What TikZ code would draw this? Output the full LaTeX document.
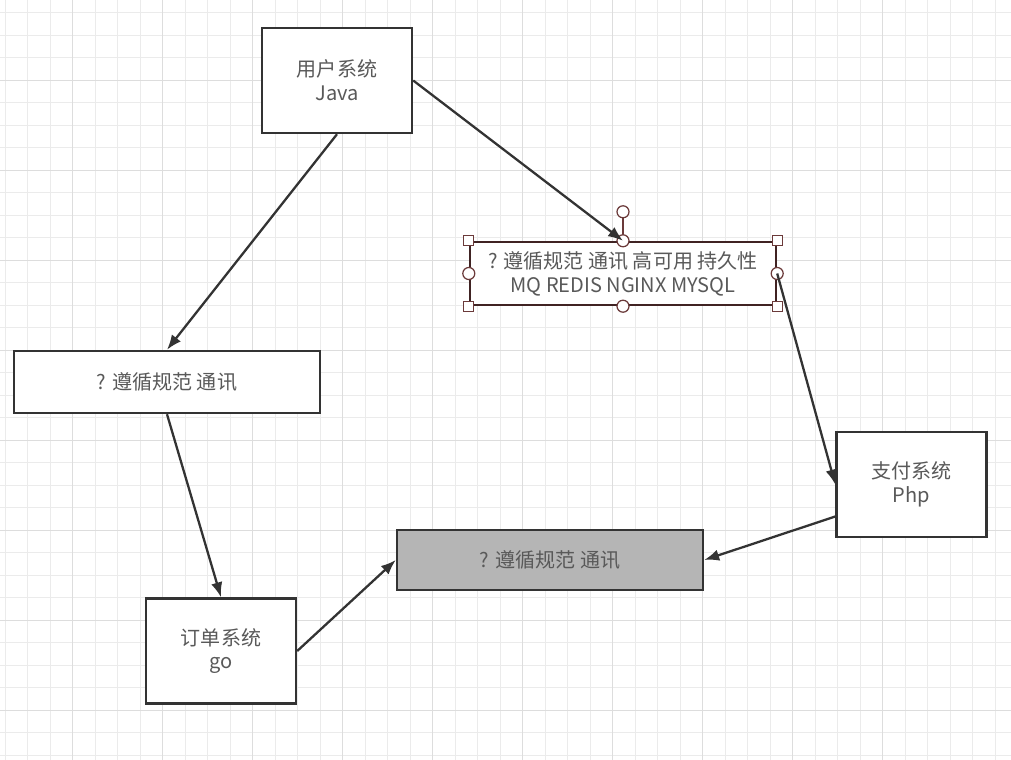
\documentclass[tikz,border=0pt]{standalone}
\usepackage{fontspec}
\setmainfont{Noto Sans CJK SC}
\usetikzlibrary{
    positioning,
    arrows.meta,
    calc
}
\definecolor{txtgray}{HTML}{595959}
\definecolor{boxfill}{HTML}{B5B5B5}
\definecolor{gridminor}{HTML}{EBEBEB}
\definecolor{gridmajor}{HTML}{DDDDDD}
\definecolor{selred}{HTML}{6B3A3A}

\begin{document}
\begin{tikzpicture}[
    x=0.02cm, y=-0.02cm,
    system/.style={
        draw=black!80, rectangle, line width=1.4pt, minimum height=2.1cm,
        minimum width=3cm, align=center, fill=white, text=txtgray,
        font=\fontsize{11.4}{13.6}\selectfont
    },
    spec/.style={
        draw=black!80, rectangle, line width=1.4pt, minimum height=1.24cm,
        minimum width=6.12cm, align=center, fill=white, text=txtgray,
        font=\fontsize{11.4}{13.6}\selectfont
    },
    handle/.style={draw=selred, fill=white, line width=0.7pt, rectangle, minimum size=0.2cm, inner sep=0pt},
    knob/.style={draw=selred, fill=white, line width=0.7pt, circle, minimum size=0.24cm, inner sep=0pt},
    arrow/.style={-{Latex[length=8.5pt,width=6.5pt]}, line width=1.3pt, draw=black!80}
]

% ============================== CANVAS ==============================
\useasboundingbox[fill=white] (0,0) rectangle (1011,760);
\foreach \gx in {0,...,44} {
    \draw[gridminor, line width=0.5pt] ({5+22.5*\gx},0) -- ({5+22.5*\gx},760);
}
\foreach \gy in {0,...,33} {
    \draw[gridminor, line width=0.5pt] (0,{12.7+22.5*\gy}) -- (1011,{12.7+22.5*\gy});
}
\foreach \gx in {0,...,10} {
    \draw[gridmajor, line width=0.5pt] ({72.7+90*\gx-90},0) -- ({72.7+90*\gx-90},760);
}
\foreach \gy in {0,...,8} {
    \draw[gridmajor, line width=0.5pt] (0,{80+90*\gy-90}) -- (1011,{80+90*\gy-90});
}

% ============================== SYSTEMS ==============================
\node[system] (user_sys) at (337,80.5) {用户系统\\Java};
\node[system] (order_sys) at (221,651) {订单系统\\go};
\node[system] (pay_sys) at (911.5,484.5) {支付系统\\Php};

% ============================== SPEC BOXES ==============================
\node[spec] (spec_left) at (167,382) {? 遵循规范 通讯};
\node[spec, draw=selred!60!black, minimum height=1.26cm] (spec_mq) at (623,273.5) {? 遵循规范 通讯 高可用 持久性\\MQ REDIS NGINX MYSQL};
\node[spec, fill=boxfill, minimum height=1.2cm] (spec_gray) at (550,560) {? 遵循规范 通讯};

% Selection handles
\draw[selred, line width=0.7pt] (spec_mq.north) -- ++(0,-29) node[knob] (rot_knob) {};
\foreach \anc in {north west, north east, south west, south east} {
    \node[handle] at (spec_mq.\anc) {};
}
\foreach \anc in {north, south, west, east} {
    \node[knob] at (spec_mq.\anc) {};
}

% ============================== DATA FLOW ==============================
\draw[arrow] (user_sys.south) -- (spec_left.north);
\draw[arrow] (user_sys.east) -- (spec_mq.north);
\draw[arrow] (spec_left.south) -- (order_sys.north);
\draw[arrow] (spec_mq.east) -- (pay_sys.west);
\draw[arrow] ($(pay_sys.west)+(0,32)$) -- (spec_gray.east);
\draw[arrow] (order_sys.east) -- (spec_gray.west);

\end{tikzpicture}
\end{document}
